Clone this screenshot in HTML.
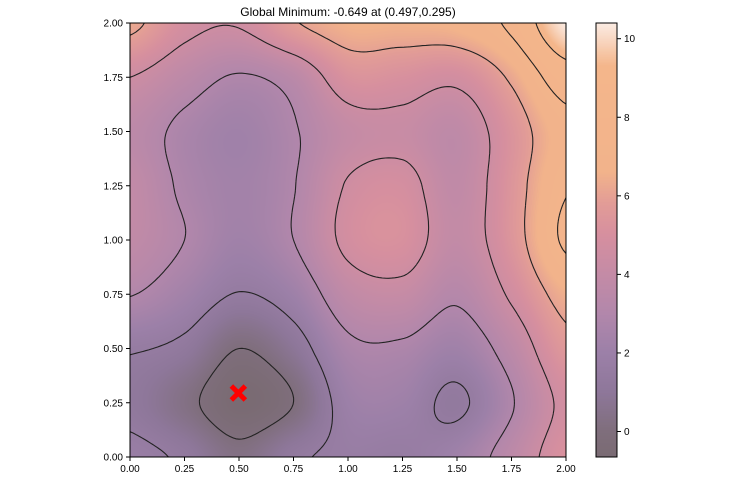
<!DOCTYPE html>
<html><head><meta charset="utf-8">
<style>
html,body{margin:0;padding:0;background:#fff;}
body{width:739px;height:482px;position:relative;overflow:hidden;font-family:"Liberation Sans",sans-serif;}
#heat{position:absolute;left:130px;top:23px;}
svg{position:absolute;left:0;top:0;}
text{font-family:"Liberation Sans",sans-serif;font-size:10px;fill:#000;}
</style></head>
<body>
<canvas id="heat" width="436" height="434"></canvas>
<canvas id="cbar" width="21" height="434" style="position:absolute;left:596px;top:23px;"></canvas>
<svg id="svg" width="739" height="482"></svg>
<script>
const gridX = [0, 0.25, 0.5, 0.75, 1.0, 1.25, 1.5, 1.75, 2.0];
const gridY = [0, 0.25, 0.5, 0.75, 1.0, 1.25, 1.5, 1.75, 2.0];
// rows indexed by y (bottom to top), columns by x
const zRow0 = [1.8, 1.3, 0.3, 1.3, 1.7, 1.6, 2.2, 3.6, 5.2];
const zRow1 = [1.2, 0.3, -0.65, 0.0, 2.0, 2.1, 1.3, 2.9, 4.8];
const zRow2 = [1.6, 1.2, 0.0, 0.9, 2.7, 2.8, 2.2, 3.6, 5.6];
const zRow3 = [3.05, 2.3, 1.45, 2.1, 3.8, 4.1, 3.2, 4.7, 6.5];
const zRow4 = [3.8, 3.0, 2.2, 3.0, 4.8, 5.1, 3.9, 5.4, 7.7];
const zRow5 = [3.9, 2.8, 2.3, 2.95, 4.6, 4.9, 3.8, 5.4, 7.4];
const zRow6 = [3.6, 2.7, 2.2, 2.9, 4.0, 4.2, 3.7, 5.3, 7.0];
const zRow7 = [4.5, 3.6, 2.9, 3.5, 5.2, 5.1, 4.8, 6.2, 8.3];
const zRow8 = [6.3, 4.9, 4.6, 5.9, 6.6, 6.6, 6.8, 7.8, 10.4];
const contourLevels = [0, 1.5, 3, 4.5, 6, 7.5, 9];
const xTicks = [0, 0.25, 0.5, 0.75, 1.0, 1.25, 1.5, 1.75, 2.0];
const yTicks = [0, 0.25, 0.5, 0.75, 1.0, 1.25, 1.5, 1.75, 2.0];
const cbarTicks = [0, 2, 4, 6, 8, 10];
const minPoint = [0.497, 0.295];
const minValue = -0.649;
const zMin = -0.649, zMax = 10.4;

const Z = [zRow0,zRow1,zRow2,zRow3,zRow4,zRow5,zRow6,zRow7,zRow8];
const L=130,R=566,T=23,B=457;
const sx = v => L + (v - 0)/(2-0)*(R-L);
const sy = v => B - (v - 0)/(2-0)*(B-T);
const cbY = v => B - (v - zMin)/(zMax-zMin)*(B-T);

function cr(p0,p1,p2,p3,t){return 0.5*((2*p1)+(-p0+p2)*t+(2*p0-5*p1+4*p2-p3)*t*t+(-p0+3*p1-3*p2+p3)*t*t*t);}
function zAt(x,y){
  const n=gridX.length-1;
  let u=x/(gridX[1]-gridX[0]), v=y/(gridY[1]-gridY[0]);
  let i=Math.min(Math.floor(u),n-1), j=Math.min(Math.floor(v),n-1);
  const tu=u-i, tv=v-j;
  const g=(a,b)=>Z[Math.max(0,Math.min(n,b))][Math.max(0,Math.min(n,a))];
  const col=[];
  for(let k=-1;k<=2;k++){col.push(cr(g(i-1,j+k),g(i,j+k),g(i+1,j+k),g(i+2,j+k),tu));}
  return cr(col[0],col[1],col[2],col[3],tv);
}
const stops=[[-0.65,[122,107,115]],[0,[127,110,124]],[1,[142,119,154]],[2,[156,128,168]],[3,[178,135,171]],[4,[196,139,166]],[5,[214,143,159]],[5.8,[226,156,151]],[6.6,[242,179,139]],[9.3,[244,182,139]],[10.4,[251,236,228]]];
function color(z){
  if(z<=stops[0][0])return stops[0][1];
  for(let k=1;k<stops.length;k++){if(z<=stops[k][0]){const a=stops[k-1],b=stops[k];const t=(z-a[0])/(b[0]-a[0]);return a[1].map((c,m)=>Math.round(c+(b[1][m]-c)*t));}}
  return stops[stops.length-1][1];
}
const hc=document.getElementById('heat').getContext('2d');
const W=R-L,H=B-T;const img=hc.createImageData(W,H);
for(let py=0;py<H;py++){for(let px=0;px<W;px++){
  const x=(px+0.5)/W*2, y=2-(py+0.5)/H*2;
  const c=color(zAt(x,y));const o=(py*W+px)*4;
  img.data[o]=c[0];img.data[o+1]=c[1];img.data[o+2]=c[2];img.data[o+3]=255;}}
hc.putImageData(img,0,0);
const cc=document.getElementById('cbar').getContext('2d');
for(let py=0;py<H;py++){const z=zMax-(py+0.5)/H*(zMax-zMin);const c=color(z);cc.fillStyle=`rgb(${c[0]},${c[1]},${c[2]})`;cc.fillRect(0,py,21,1);}

const svg=document.getElementById('svg');const NS='http://www.w3.org/2000/svg';
function mk(tag,attrs){const e=document.createElementNS(NS,tag);for(const k in attrs)e.setAttribute(k,attrs[k]);svg.appendChild(e);return e;}
const N=140, dx=2/N;
const F=[];for(let j=0;j<=N;j++){F.push([]);for(let i=0;i<=N;i++)F[j].push(zAt(i*dx,j*dx));}
contourLevels.forEach(lv=>{
  let d='';
  for(let j=0;j<N;j++)for(let i=0;i<N;i++){
    const a=F[j][i],b=F[j][i+1],c=F[j+1][i+1],e=F[j+1][i];
    const pts=[];
    const it=(v1,v2,x1,y1,x2,y2)=>{const t=(lv-v1)/(v2-v1);pts.push([x1+(x2-x1)*t,y1+(y2-y1)*t]);};
    const x0=i*dx,y0=j*dx,x1=x0+dx,y1=y0+dx;
    if((a<lv)!==(b<lv))it(a,b,x0,y0,x1,y0);
    if((b<lv)!==(c<lv))it(b,c,x1,y0,x1,y1);
    if((c<lv)!==(e<lv))it(c,e,x1,y1,x0,y1);
    if((e<lv)!==(a<lv))it(e,a,x0,y1,x0,y0);
    for(let k=0;k+1<pts.length;k+=2)d+=`M${sx(pts[k][0]).toFixed(1)},${sy(pts[k][1]).toFixed(1)}L${sx(pts[k+1][0]).toFixed(1)},${sy(pts[k+1][1]).toFixed(1)}`;
  }
  const p=mk('path',{d:d,stroke:'#222',fill:'none','stroke-width':1.1});
  
  
});
const fr=mk('rect',{x:L,y:T,width:R-L,height:B-T,fill:'none',stroke:'#000','stroke-width':1});


xTicks.forEach(v=>{
  const t=mk('line',{x1:sx(v),x2:sx(v),y1:B,y2:B+4,stroke:'#000'});
  
  
  const l=mk('text',{x:sx(v),y:B+15,'text-anchor':'middle'});l.textContent=v.toFixed(2);
  
  
});
yTicks.forEach(v=>{
  const t=mk('line',{x1:L-4,x2:L,y1:sy(v),y2:sy(v),stroke:'#000'});
  
  
  const l=mk('text',{x:L-7,y:sy(v)+3.5,'text-anchor':'end'});l.textContent=v.toFixed(2);
  
  
});
const mx=sx(minPoint[0]),my=sy(minPoint[1]);
const mkr=mk('path',{d:`M${mx-7},${my-7}L${mx+7},${my+7}M${mx-7},${my+7}L${mx+7},${my-7}`,stroke:'#ff0000','stroke-width':5});


const ttl=mk('text',{x:(L+R)/2,y:16,'text-anchor':'middle'});
ttl.style.fontSize='12px';
ttl.textContent=`Global Minimum: ${minValue} at (${minPoint[0]},${minPoint[1]})`;


const cf=mk('rect',{x:596,y:T,width:21,height:B-T,fill:'none',stroke:'#000'});


cbarTicks.forEach(v=>{
  const t=mk('line',{x1:617,x2:621,y1:cbY(v),y2:cbY(v),stroke:'#000'});
  
  
  const l=mk('text',{x:624,y:cbY(v)+3.5});l.textContent=String(v);
  
  
});
</script>
</body></html>
